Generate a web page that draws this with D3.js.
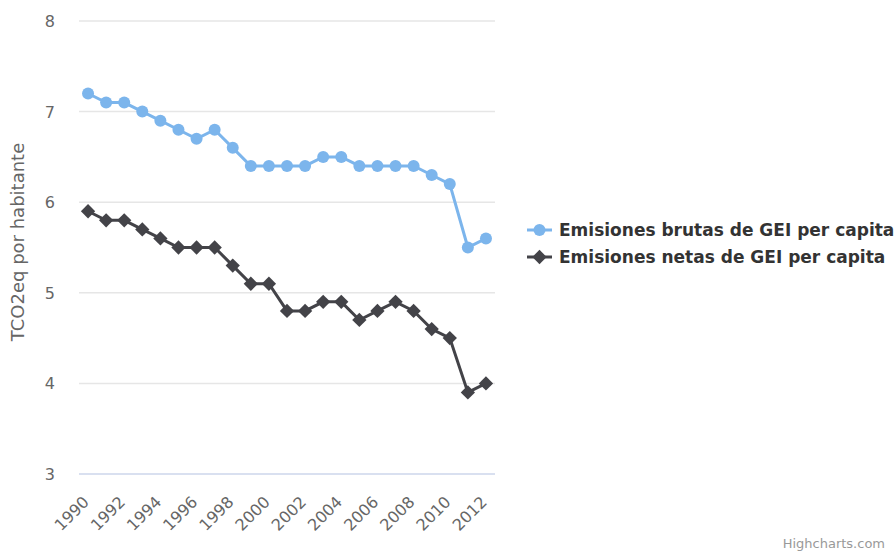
<!DOCTYPE html>
<html>
<head>
<meta charset="utf-8">
<script src="https://cdn.jsdelivr.net/npm/d3@7"></script>
<style>
  body { margin: 0; background: #fff; }
  text { font-family: "DejaVu Sans", sans-serif; }
</style>
</head>
<body>
<script>
let years = d3.range(1990, 2013);
let brutas = [7.2, 7.1, 7.1, 7.0, 6.9, 6.8, 6.7, 6.8, 6.6, 6.4, 6.4, 6.4, 6.4, 6.5, 6.5, 6.4, 6.4, 6.4, 6.4, 6.3, 6.2, 5.5, 5.6];
let netas = [5.9, 5.8, 5.8, 5.7, 5.6, 5.5, 5.5, 5.5, 5.3, 5.1, 5.1, 4.8, 4.8, 4.9, 4.9, 4.7, 4.8, 4.9, 4.8, 4.6, 4.5, 3.9, 4.0];
let yTicks = [3, 4, 5, 6, 7, 8];
let seriesNames = ["Emisiones brutas de GEI per capita", "Emisiones netas de GEI per capita"];

let width = 895, height = 552;
let margin = {left: 79, right: 400, top: 21, bottom: 78};

let svg = d3.select("body").append("svg").attr("width", width).attr("height", height)

let x = d3.scaleBand().domain(years).range([margin.left, width - margin.right])
let y = d3.scaleLinear().domain([3, 8]).range([height - margin.bottom, margin.top])
let cx = d => x(d) + x.bandwidth() / 2

// grid
svg.append("g").selectAll("line")
  .data(yTicks)
  .enter().append("line")
    .attr("x1", margin.left).attr("x2", width - margin.right)
    .attr("y1", d => y(d)).attr("y2", d => y(d))
    .attr("stroke", d => d == 3 ? "#ccd6eb" : "#e6e6e6")
    .attr("stroke-width", 1.5)

svg.append("g").selectAll("text")
  .data(yTicks)
  .enter().append("text")
    .attr("x", 55).attr("y", d => y(d) + 6)
    .attr("text-anchor", "end")
    .attr("fill", "#666")
    .attr("font-size", "16px")
    .text(d => d)

// x labels
svg.append("g").selectAll("text")
  .data(years.filter(d => d % 2 == 0))
  .enter().append("text")
    .attr("transform", d => "translate(" + (cx(d) + 2) + "," + (y(3) + 29) + ") rotate(-45)")
    .attr("text-anchor", "end")
    .attr("fill", "#666")
    .attr("font-size", "16px")
    .text(d => d)

svg.append("text")
  .attr("transform", "translate(24," + 242 + ") rotate(-90)")
  .attr("text-anchor", "middle")
  .attr("fill", "#666")
  .attr("font-size", "18px")
  .text("TCO2eq por habitante")

let line = d3.line().x((d, i) => cx(years[i])).y(d => y(d))
let diamond = d3.symbol().type(d3.symbolDiamond2).size(130)

// brutas
svg.append("path").datum(brutas)
  .attr("d", line).attr("fill", "none").attr("stroke", "#7cb5ec").attr("stroke-width", 3)
svg.append("g").selectAll("circle")
  .data(brutas)
  .enter().append("circle")
    .attr("cx", (d, i) => cx(years[i])).attr("cy", d => y(d))
    .attr("r", 6).attr("fill", "#7cb5ec")

// netas
svg.append("path").datum(netas)
  .attr("d", line).attr("fill", "none").attr("stroke", "#434348").attr("stroke-width", 3)
svg.append("g").selectAll("path.pt")
  .data(netas)
  .enter().append("path")
    .attr("class", "pt")
    .attr("transform", (d, i) => "translate(" + cx(years[i]) + "," + y(d) + ")")
    .attr("d", diamond).attr("fill", "#434348")

// legend
let colors = ["#7cb5ec", "#434348"];
let legend = svg.append("g").selectAll("g")
  .data(seriesNames)
  .enter().append("g")
    .attr("transform", (d, i) => "translate(527," + (230 + i * 27) + ")")
legend.append("line")
  .attr("x1", 0).attr("x2", 25).attr("y1", 0).attr("y2", 0)
  .attr("stroke", (d, i) => colors[i]).attr("stroke-width", 3)
legend.filter((d, i) => i == 0).append("circle")
  .attr("cx", 12.5).attr("cy", 0).attr("r", 6).attr("fill", colors[0])
legend.filter((d, i) => i == 1).append("path")
  .attr("transform", "translate(12.5,0)")
  .attr("d", diamond).attr("fill", colors[1])
legend.append("text")
  .attr("x", 32).attr("y", 6)
  .attr("font-size", "17px").attr("font-weight", "bold").attr("fill", "#333")
  .text(d => d)

svg.append("text")
  .attr("x", 885).attr("y", 548)
  .attr("text-anchor", "end").attr("fill", "#999").attr("font-size", "13px")
  .text("Highcharts.com")
</script>
</body>
</html>
